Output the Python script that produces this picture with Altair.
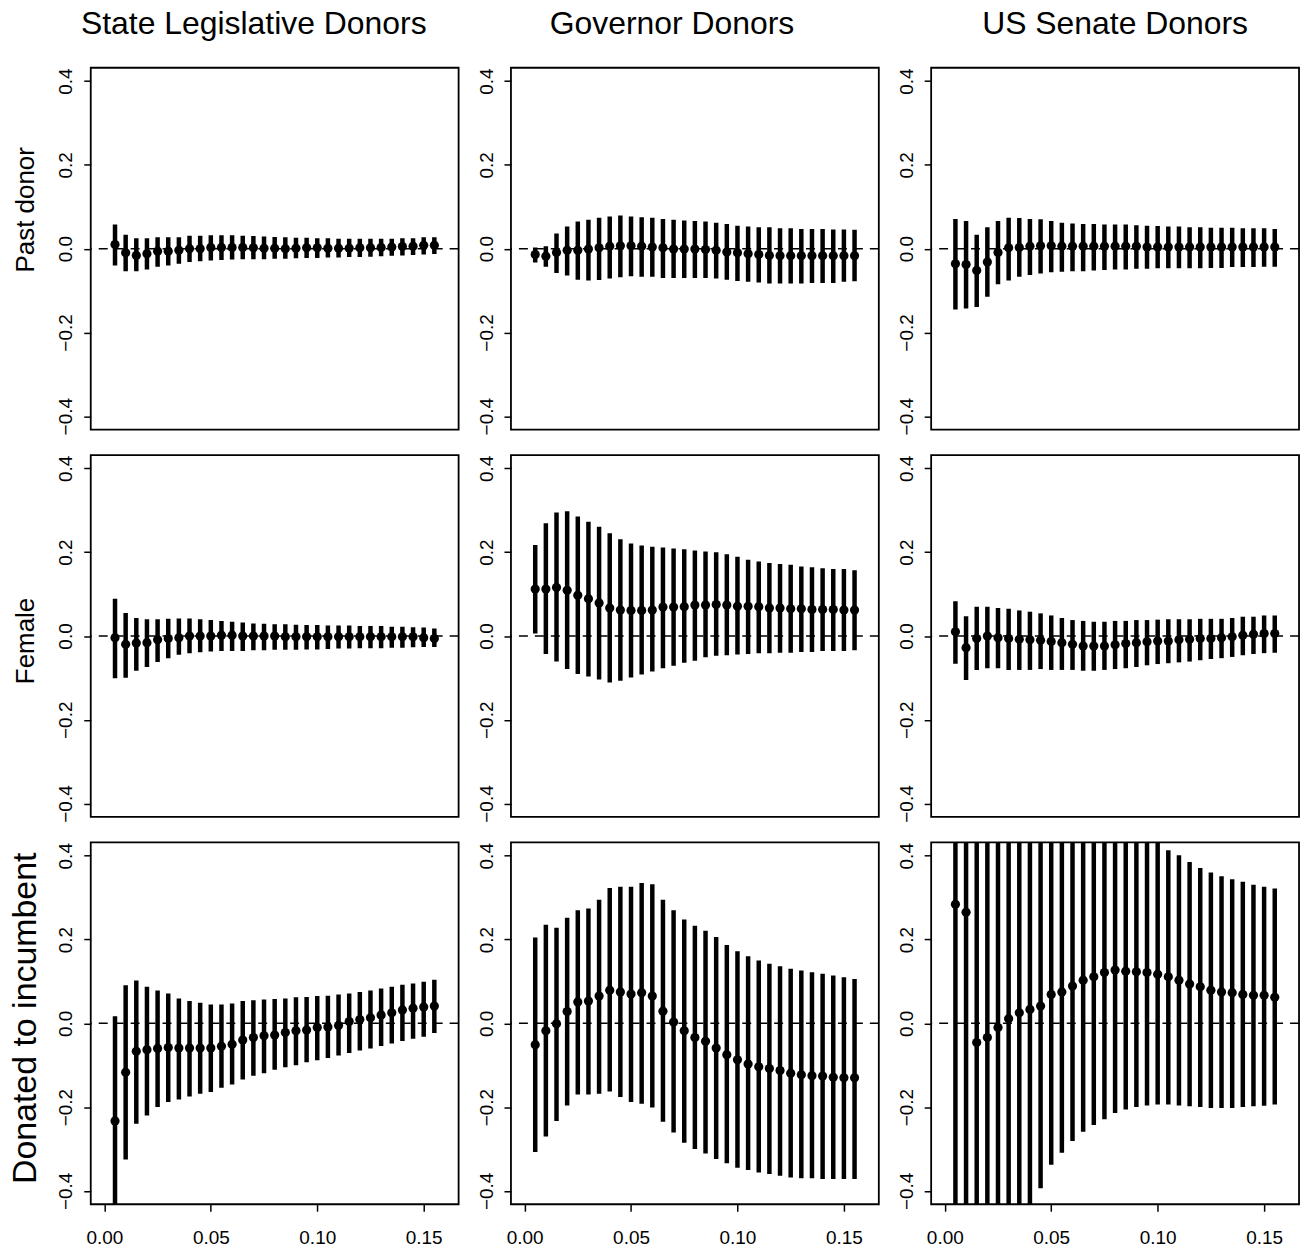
import altair as alt
import pandas as pd

FONT = "Liberation Sans"

col_titles = ["State Legislative Donors", "Governor Donors", "US Senate Donors"]
row_labels = ["Past donor", "Female", "Donated to incumbent"]

x_vals = [0.005, 0.010, 0.015, 0.020, 0.025, 0.030, 0.035, 0.040, 0.045, 0.050,
          0.055, 0.060, 0.065, 0.070, 0.075, 0.080, 0.085, 0.090, 0.095, 0.100,
          0.105, 0.110, 0.115, 0.120, 0.125, 0.130, 0.135, 0.140, 0.145, 0.150, 0.155]
x_ticks = [0.00, 0.05, 0.10, 0.15]
y_ticks = [-0.4, -0.2, 0.0, 0.2, 0.4]

# ---- Past donor ----
past_state_est = [0.010, -0.010, -0.016, -0.012, -0.006, -0.006, -0.004, 0.000, 0.000, 0.003, 0.003, 0.003, 0.003, 0.002, 0.001, 0.001, 0.000, 0.001, 0.002, 0.002, 0.001, 0.001, 0.001, 0.002, 0.002, 0.003, 0.004, 0.005, 0.006, 0.008, 0.008]
past_state_lo = [-0.040, -0.054, -0.054, -0.050, -0.043, -0.040, -0.036, -0.032, -0.030, -0.028, -0.027, -0.026, -0.025, -0.025, -0.025, -0.024, -0.024, -0.023, -0.022, -0.022, -0.021, -0.021, -0.020, -0.020, -0.019, -0.018, -0.017, -0.016, -0.015, -0.014, -0.013]
past_state_hi = [0.058, 0.033, 0.025, 0.025, 0.027, 0.027, 0.027, 0.031, 0.031, 0.032, 0.032, 0.032, 0.031, 0.030, 0.029, 0.028, 0.027, 0.026, 0.026, 0.025, 0.025, 0.024, 0.024, 0.024, 0.024, 0.024, 0.024, 0.025, 0.025, 0.027, 0.027]

past_gov_est = [-0.014, -0.018, -0.009, -0.004, -0.004, -0.001, 0.002, 0.006, 0.007, 0.007, 0.006, 0.004, 0.002, -0.001, -0.001, -0.001, -0.002, -0.004, -0.008, -0.010, -0.012, -0.014, -0.016, -0.017, -0.017, -0.017, -0.017, -0.017, -0.017, -0.017, -0.017]
past_gov_lo = [-0.033, -0.043, -0.058, -0.064, -0.074, -0.076, -0.075, -0.071, -0.068, -0.066, -0.067, -0.067, -0.070, -0.070, -0.070, -0.070, -0.070, -0.071, -0.074, -0.077, -0.079, -0.081, -0.083, -0.083, -0.083, -0.083, -0.082, -0.082, -0.082, -0.079, -0.078]
past_gov_hi = [0.003, 0.006, 0.036, 0.053, 0.065, 0.069, 0.074, 0.077, 0.079, 0.077, 0.075, 0.074, 0.071, 0.069, 0.067, 0.066, 0.065, 0.062, 0.059, 0.055, 0.053, 0.051, 0.051, 0.049, 0.049, 0.047, 0.047, 0.047, 0.046, 0.046, 0.045]

past_sen_est = [-0.036, -0.038, -0.052, -0.032, -0.009, 0.002, 0.003, 0.006, 0.007, 0.007, 0.006, 0.006, 0.006, 0.006, 0.006, 0.006, 0.006, 0.006, 0.004, 0.004, 0.004, 0.004, 0.004, 0.004, 0.004, 0.004, 0.004, 0.004, 0.004, 0.004, 0.004]
past_sen_lo = [-0.145, -0.143, -0.139, -0.115, -0.085, -0.076, -0.067, -0.063, -0.059, -0.056, -0.055, -0.054, -0.054, -0.052, -0.051, -0.050, -0.050, -0.048, -0.048, -0.047, -0.047, -0.047, -0.047, -0.047, -0.046, -0.046, -0.044, -0.044, -0.044, -0.043, -0.043]
past_sen_hi = [0.071, 0.066, 0.033, 0.051, 0.066, 0.074, 0.073, 0.071, 0.070, 0.066, 0.062, 0.060, 0.059, 0.059, 0.058, 0.058, 0.058, 0.056, 0.055, 0.054, 0.053, 0.053, 0.051, 0.051, 0.050, 0.050, 0.050, 0.049, 0.049, 0.049, 0.047]

# ---- Female ----
fem_state_est = [-0.004, -0.020, -0.017, -0.016, -0.009, -0.006, -0.004, 0.000, 0.000, 0.000, 0.002, 0.002, 0.000, 0.000, 0.000, 0.000, -0.002, -0.002, -0.002, -0.002, -0.002, -0.002, -0.002, -0.002, -0.002, -0.002, -0.002, -0.002, -0.002, -0.004, -0.006]
fem_state_lo = [-0.101, -0.100, -0.083, -0.074, -0.062, -0.053, -0.045, -0.041, -0.039, -0.037, -0.036, -0.036, -0.036, -0.034, -0.034, -0.033, -0.033, -0.033, -0.032, -0.032, -0.031, -0.030, -0.030, -0.029, -0.029, -0.029, -0.028, -0.028, -0.027, -0.026, -0.026]
fem_state_hi = [0.089, 0.055, 0.043, 0.040, 0.040, 0.041, 0.042, 0.042, 0.040, 0.038, 0.036, 0.034, 0.032, 0.030, 0.029, 0.028, 0.028, 0.027, 0.026, 0.026, 0.025, 0.025, 0.025, 0.024, 0.024, 0.024, 0.022, 0.022, 0.021, 0.020, 0.018]

fem_gov_est = [0.112, 0.112, 0.116, 0.109, 0.097, 0.089, 0.079, 0.067, 0.062, 0.061, 0.061, 0.062, 0.069, 0.069, 0.070, 0.074, 0.074, 0.075, 0.074, 0.071, 0.071, 0.070, 0.067, 0.067, 0.065, 0.065, 0.063, 0.063, 0.063, 0.062, 0.062]
fem_gov_lo = [0.006, -0.043, -0.061, -0.079, -0.091, -0.097, -0.104, -0.111, -0.107, -0.099, -0.092, -0.085, -0.077, -0.071, -0.064, -0.059, -0.051, -0.047, -0.046, -0.044, -0.043, -0.041, -0.041, -0.040, -0.040, -0.038, -0.038, -0.036, -0.036, -0.036, -0.034]
fem_gov_hi = [0.217, 0.269, 0.295, 0.298, 0.285, 0.273, 0.261, 0.245, 0.231, 0.221, 0.216, 0.213, 0.211, 0.209, 0.207, 0.204, 0.202, 0.200, 0.195, 0.189, 0.182, 0.178, 0.174, 0.172, 0.170, 0.166, 0.164, 0.162, 0.160, 0.160, 0.157]

fem_sen_est = [0.010, -0.028, -0.006, 0.000, -0.004, -0.006, -0.008, -0.009, -0.010, -0.013, -0.016, -0.020, -0.024, -0.024, -0.024, -0.021, -0.018, -0.016, -0.014, -0.012, -0.012, -0.009, -0.008, -0.006, -0.006, -0.004, -0.002, 0.002, 0.004, 0.006, 0.006]
fem_sen_lo = [-0.066, -0.105, -0.081, -0.077, -0.077, -0.081, -0.081, -0.081, -0.079, -0.081, -0.081, -0.081, -0.083, -0.083, -0.081, -0.079, -0.077, -0.074, -0.070, -0.067, -0.065, -0.063, -0.061, -0.058, -0.055, -0.053, -0.050, -0.046, -0.043, -0.041, -0.040]
fem_sen_hi = [0.083, 0.047, 0.070, 0.070, 0.067, 0.065, 0.061, 0.058, 0.054, 0.049, 0.043, 0.038, 0.036, 0.034, 0.034, 0.036, 0.036, 0.038, 0.038, 0.039, 0.040, 0.040, 0.040, 0.041, 0.041, 0.041, 0.043, 0.046, 0.046, 0.049, 0.049]

# ---- Donated to incumbent ----
inc_state_est = [-0.233, -0.117, -0.067, -0.063, -0.060, -0.058, -0.059, -0.059, -0.059, -0.059, -0.055, -0.050, -0.040, -0.034, -0.030, -0.028, -0.022, -0.018, -0.016, -0.010, -0.009, -0.005, 0.004, 0.009, 0.013, 0.020, 0.025, 0.032, 0.036, 0.039, 0.041]
inc_state_lo = [-0.500, -0.325, -0.240, -0.220, -0.200, -0.188, -0.182, -0.175, -0.168, -0.164, -0.154, -0.146, -0.134, -0.125, -0.119, -0.111, -0.105, -0.100, -0.093, -0.088, -0.083, -0.077, -0.071, -0.065, -0.060, -0.054, -0.048, -0.042, -0.037, -0.032, -0.023]
inc_state_hi = [0.017, 0.091, 0.102, 0.087, 0.078, 0.071, 0.059, 0.053, 0.049, 0.045, 0.045, 0.047, 0.053, 0.055, 0.057, 0.058, 0.059, 0.062, 0.063, 0.065, 0.066, 0.069, 0.071, 0.075, 0.078, 0.083, 0.087, 0.092, 0.095, 0.099, 0.104]

inc_gov_est = [-0.051, -0.018, -0.001, 0.028, 0.051, 0.053, 0.065, 0.079, 0.075, 0.070, 0.073, 0.065, 0.029, 0.003, -0.018, -0.034, -0.043, -0.059, -0.075, -0.087, -0.097, -0.104, -0.108, -0.113, -0.119, -0.123, -0.125, -0.126, -0.129, -0.130, -0.130]
inc_gov_lo = [-0.307, -0.270, -0.233, -0.196, -0.170, -0.170, -0.168, -0.163, -0.176, -0.188, -0.192, -0.201, -0.235, -0.261, -0.285, -0.300, -0.311, -0.324, -0.334, -0.345, -0.350, -0.356, -0.360, -0.364, -0.368, -0.370, -0.370, -0.372, -0.372, -0.372, -0.372]
inc_gov_hi = [0.205, 0.235, 0.228, 0.252, 0.270, 0.274, 0.295, 0.323, 0.326, 0.326, 0.335, 0.332, 0.295, 0.270, 0.248, 0.233, 0.221, 0.206, 0.187, 0.172, 0.160, 0.150, 0.142, 0.136, 0.130, 0.126, 0.122, 0.118, 0.114, 0.110, 0.106]

inc_sen_est = [0.284, 0.265, -0.046, -0.034, -0.010, 0.011, 0.025, 0.033, 0.041, 0.069, 0.075, 0.089, 0.103, 0.111, 0.121, 0.127, 0.124, 0.123, 0.121, 0.117, 0.111, 0.103, 0.094, 0.087, 0.079, 0.075, 0.073, 0.069, 0.067, 0.067, 0.062]
inc_sen_lo = [-0.670, -0.640, -0.700, -0.620, -0.580, -0.520, -0.490, -0.460, -0.394, -0.338, -0.309, -0.281, -0.259, -0.243, -0.229, -0.214, -0.206, -0.200, -0.196, -0.194, -0.194, -0.196, -0.198, -0.200, -0.202, -0.202, -0.202, -0.200, -0.198, -0.197, -0.194]
inc_sen_hi = [1.240, 1.170, 0.610, 0.550, 0.560, 0.540, 0.540, 0.530, 0.476, 0.476, 0.459, 0.459, 0.465, 0.461, 0.470, 0.467, 0.454, 0.446, 0.437, 0.433, 0.413, 0.401, 0.385, 0.371, 0.360, 0.351, 0.344, 0.338, 0.331, 0.326, 0.322]

panels = [
    [(past_state_est, past_state_lo, past_state_hi),
     (past_gov_est, past_gov_lo, past_gov_hi),
     (past_sen_est, past_sen_lo, past_sen_hi)],
    [(fem_state_est, fem_state_lo, fem_state_hi),
     (fem_gov_est, fem_gov_lo, fem_gov_hi),
     (fem_sen_est, fem_sen_lo, fem_sen_hi)],
    [(inc_state_est, inc_state_lo, inc_state_hi),
     (inc_gov_est, inc_gov_lo, inc_gov_hi),
     (inc_sen_est, inc_sen_lo, inc_sen_hi)],
]

W, H = 369, 363
X_SCALE = alt.Scale(domain=[-0.0064, 0.1664], nice=False, zero=False)
Y_SCALE = alt.Scale(domain=[-0.432, 0.432], nice=False, zero=False)
TITLE_DX = [-21, -23, 0]
ROW_TITLE_Y = [142, 186, 176]      # centre of each row label along the panel
ROW_TITLE_SIZE = [26, 26, 34]


def make_panel(r, c):
    est, lo, hi = panels[r][c]
    df = pd.DataFrame({"x": x_vals, "est": est, "lo": lo, "hi": hi})
    if r == 2:
        x_axis = alt.Axis(values=x_ticks, format=".2f", labelFontSize=19,
                          tickSize=7, labelPadding=17, grid=False, domain=False)
    else:
        x_axis = None
    y_kw = dict(values=y_ticks, format=".1f", labelAngle=270,
                labelAlign="center", labelBaseline="alphabetic",
                labelPadding=12, tickSize=7, grid=False, domain=False,
                labelFontSize=19)
    if c == 0:
        y_kw.update(titleFontSize=ROW_TITLE_SIZE[r], titleAngle=270,
                    titleAlign="center", titleBaseline="middle",
                    titleX=-65, titleY=ROW_TITLE_Y[r])
    y_axis = alt.Axis(**y_kw)
    ytitle = row_labels[r] if c == 0 else None

    zero = alt.Chart(pd.DataFrame({"ref": [0.0]})).mark_rule(
        color="black", strokeWidth=1.6, strokeDash=[9, 7]
    ).encode(y=alt.Y("ref:Q", scale=Y_SCALE))

    bars = alt.Chart(df).mark_rule(color="black", strokeWidth=4.5, clip=True).encode(
        x=alt.X("x:Q", scale=X_SCALE, axis=x_axis, title=None),
        y=alt.Y("lo:Q", scale=Y_SCALE, axis=y_axis, title=ytitle),
        y2="hi:Q",
    )
    pts = alt.Chart(df).mark_circle(color="black", size=85, opacity=1, clip=True).encode(
        x=alt.X("x:Q", scale=X_SCALE),
        y=alt.Y("est:Q", scale=Y_SCALE),
    )
    layer = alt.layer(zero, bars, pts).properties(width=W, height=H)
    if r == 0:
        layer = layer.properties(title=alt.TitleParams(
            text=col_titles[c], fontSize=32, font=FONT, fontWeight="normal",
            anchor="middle", frame="group", baseline="alphabetic", offset=0,
            dy=-2, dx=TITLE_DX[c], color="black"))
    return layer


cells = [make_panel(r, c) for r in range(3) for c in range(3)]
chart = alt.concat(*cells, columns=3, spacing={"row": 25.5, "column": 52.5},
                   bounds="flush").properties(
    padding={"left": 0, "top": -3, "right": 5, "bottom": 5}
).configure_view(
    stroke="black", strokeWidth=1.8
).configure_axis(
    labelFont=FONT, titleFont=FONT, labelColor="black", titleColor="black",
    tickColor="black", tickWidth=1.5, titleFontWeight="normal"
).configure_title(font=FONT)

chart.save("out.html", embed_options={"renderer": "svg", "actions": False})
